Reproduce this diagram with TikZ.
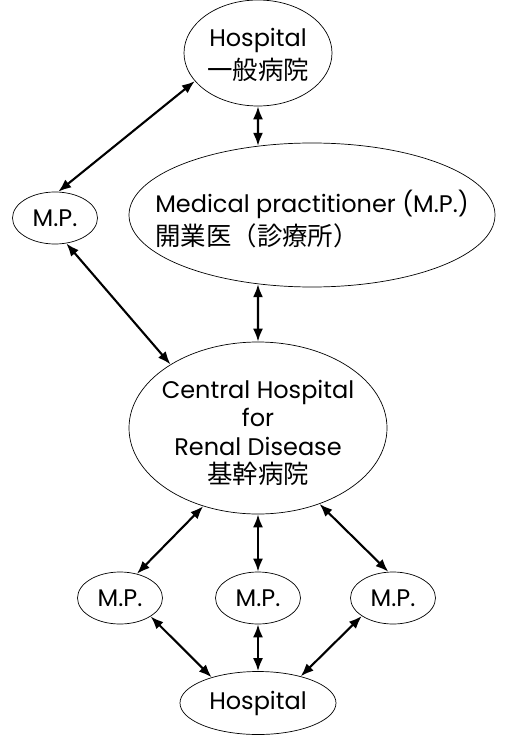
\documentclass[tikz,border=0pt]{standalone}
\usepackage{fontspec}
\setmainfont{Poppins}
\newfontfamily\jp{Noto Sans CJK JP}[Scale=1.06]
\usetikzlibrary{arrows.meta, shapes.geometric}

\begin{document}
\begin{tikzpicture}[
    x=1pt,y=-1pt,
    >={Latex[length=13pt,width=10pt]},
    font=\fontsize{24}{28.5}\selectfont,
    oval/.style={draw, ellipse, line width=0.7pt, inner sep=0pt},
    mp/.style={oval, minimum width=85pt, minimum height=52pt},
    sig/.style={<->, line width=2.1pt}
]
\useasboundingbox (0,0) rectangle (508,735);

% --- Upper part ---
\node[oval, minimum width=148pt, minimum height=106pt,
    label={[align=center, yshift=-2pt]center:Hospital\\[4pt]{\jp 一般病院}}] (hosp) at (258,53) {};

\node[mp, label=center:M.P.] (mpa) at (55,218) {};

\node[oval, minimum width=366pt, minimum height=144pt,
    label={[align=left, yshift=-4pt]center:Medical practitioner (M.P.)\\[5pt]{\jp 開業医（診療所）}}] (gp) at (312,215) {};

% --- Central hospital ---
\node[oval, minimum width=258pt, minimum height=172pt,
    label={[align=center, yshift=-5pt]center:Central Hospital\\for\\Renal Disease\\{\jp 基幹病院}}] (central) at (258,428) {};

% --- Lower part ---
\node[mp, label=center:M.P.] (mpl) at (120,598) {};
\node[mp, label=center:M.P.] (mpm) at (258,598) {};
\node[mp, label=center:M.P.] (mpr) at (393,598) {};

\node[oval, minimum width=156pt, minimum height=63pt,
    label=center:Hospital] (hospb) at (258,703) {};

% --- Connections ---
\draw[sig] (mpa.83) -- (hosp.204);
\draw[sig] (hosp.south) -- (gp.128);
\draw[sig] (mpa.294) -- (central.144);
\draw[sig] (gp.232) -- (central.north);

\draw[sig] (central.235) -- (mpl.55);
\draw[sig] (central.south) -- (mpm.north);
\draw[sig] (central.309) -- (mpr.100);

\draw[sig] (mpl.329) -- (hospb.151);
\draw[sig] (mpm.south) -- (hospb.north);
\draw[sig] (mpr.210) -- (hospb.32);

\end{tikzpicture}
\end{document}
